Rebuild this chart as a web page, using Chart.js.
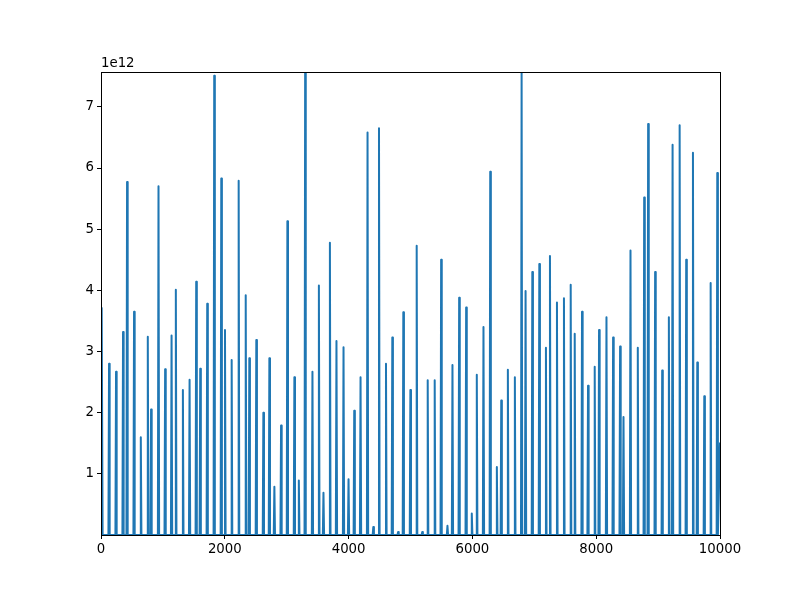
<!DOCTYPE html>
<html>
<head>
<meta charset="utf-8">
<script src="https://cdn.jsdelivr.net/npm/chart.js@4"></script>
<style>
  html, body { margin:0; padding:0; background:#fff; }
  #wrap { width:800px; height:600px; }
</style>
</head>
<body>
<div id="wrap"><canvas id="chart" width="800" height="600"></canvas></div>
<script>
/* ===== DATA (values in units of 1e12) ===== */
const peakX = [
  16, 130, 243, 356, 421, 534, 643, 756, 809, 929,
  1036, 1140, 1209, 1323, 1431, 1538, 1603, 1716, 1829, 1943,
  2003, 2111, 2224, 2338, 2396, 2509, 2623, 2720, 2801, 2909,
  3011, 3124, 3196, 3298, 3416, 3520, 3594, 3698, 3804, 3918,
  3999, 4091, 4193, 4306, 4399, 4491, 4604, 4706, 4800, 4884,
  4998, 5100, 5190, 5278, 5391, 5495, 5597, 5678, 5786, 5899,
  5990, 6071, 6179, 6288, 6395, 6466, 6573, 6686, 6795, 6859,
  6968, 7081, 7188, 7253, 7366, 7479, 7588, 7653, 7771, 7868,
  7976, 8046, 8166, 8273, 8386, 8441, 8554, 8672, 8775, 8839,
  8952, 9066, 9174, 9234, 9348, 9454, 9563, 9633, 9746, 9849,
  9956
];
const peakY = [
  3.71, 2.80, 2.67, 3.32, 5.77, 3.65, 1.60, 3.24, 2.05, 5.70,
  2.71, 3.26, 4.01, 2.37, 2.54, 4.14, 2.72, 3.78, 7.51, 5.83,
  3.35, 2.86, 5.79, 3.92, 2.89, 3.19, 2.00, 2.89, 0.79, 1.79,
  5.13, 2.58, 0.89, 7.57, 2.67, 4.08, 0.69, 4.78, 3.17, 3.07,
  0.91, 2.03, 2.58, 6.58, 0.13, 6.65, 2.80, 3.23, 0.05, 3.64,
  2.37, 4.73, 0.05, 2.53, 2.53, 4.50, 0.15, 2.78, 3.88, 3.72,
  0.35, 2.62, 3.40, 5.94, 1.11, 2.20, 2.70, 2.58, 7.57, 3.99,
  4.30, 4.43, 3.06, 4.56, 3.80, 3.87, 4.09, 3.29, 3.65, 2.44,
  2.75, 3.35, 3.56, 3.23, 3.08, 1.93, 4.65, 3.06, 5.52, 6.72,
  4.30, 2.69, 3.56, 6.38, 6.70, 4.50, 6.25, 2.82, 2.27, 4.12,
  5.92
];
const endX = 10000, endY = 1.5;
const xTicks = [0, 2000, 4000, 6000, 8000, 10000];
const yTicks = [1, 2, 3, 4, 5, 6, 7];
const Y_MAX = 7.57;
const SPIKE_HALF = 10;

/* ===== BUILD POINTS ===== */
const points = [{ x: 0, y: 0 }];
peakX.forEach((x, i) => {
  points.push({ x: Math.max(0, x - SPIKE_HALF), y: 0 });
  points.push({ x: x, y: peakY[i] });
  points.push({ x: Math.min(endX, x + SPIKE_HALF), y: 0 });
});
points.push({ x: endX, y: endY });

/* ===== PLUGINS ===== */
const frame = {
  id: 'frame',
  afterDraw(chart) {
    const { ctx, chartArea: a } = chart;
    ctx.save();
    ctx.strokeStyle = '#000';
    ctx.lineWidth = 1;
    ctx.strokeRect(Math.round(a.left) + 0.5, Math.round(a.top) + 0.5,
      Math.round(a.right - a.left), Math.round(a.bottom - a.top));
    ctx.fillStyle = '#000';
    ctx.font = '13.3px "DejaVu Sans"';
    ctx.textBaseline = 'bottom';
    ctx.textAlign = 'left';
    ctx.fillText('1e12', a.left, a.top - 2);
    ctx.restore();
  }
};

/* ===== CHART ===== */
new Chart(document.getElementById('chart'), {
  type: 'line',
  data: {
    datasets: [{
      data: points,
      borderColor: '#1f77b4',
      borderWidth: 2,
      borderJoinStyle: 'round',
      borderCapStyle: 'round',
      pointRadius: 0,
      tension: 0,
      fill: false
    }]
  },
  options: {
    responsive: false,
    animation: false,
    events: [],
    layout: { padding: { left: 0, right: 80, top: 72, bottom: 0 } },
    plugins: { legend: { display: false }, tooltip: { enabled: false } },
    scales: {
      x: {
        type: 'linear', min: 0, max: 10000,
        afterBuildTicks: s => { s.ticks = xTicks.map(v => ({ value: v })); },
        afterFit: s => { s.height = 65; },
        grid: { drawOnChartArea: false, drawTicks: true, tickLength: 4, color: '#000' },
        border: { display: false },
        ticks: { color: '#000', padding: 3, maxRotation: 0, autoSkip: false,
          font: { family: 'DejaVu Sans', size: 13.3 }, callback: v => String(v) }
      },
      y: {
        type: 'linear', min: 0, max: Y_MAX,
        afterBuildTicks: s => { s.ticks = yTicks.map(v => ({ value: v })); },
        afterFit: s => { s.width = 101; },
        grid: { drawOnChartArea: false, drawTicks: true, tickLength: 4, color: '#000' },
        border: { display: false },
        ticks: { color: '#000', padding: 3, autoSkip: false,
          font: { family: 'DejaVu Sans', size: 13.3 }, callback: v => String(v) }
      }
    }
  },
  plugins: [frame]
});
</script>
</body>
</html>
